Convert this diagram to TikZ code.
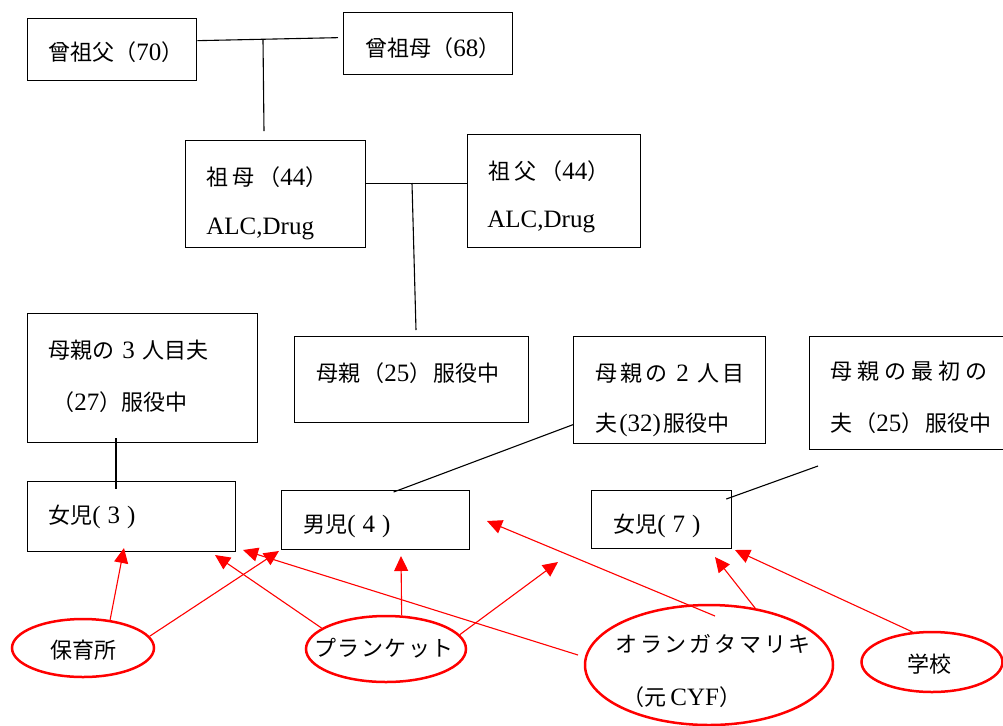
\documentclass[tikz,border=0pt]{standalone}
\usepackage{fontspec}
\setmainfont{Liberation Serif}
\newfontfamily\cjk[Scale=0.88]{Noto Sans CJK JP}
\usetikzlibrary{arrows.meta,shapes.geometric}
\newcommand\J[1]{{\cjk #1}}
\newcommand\gp[1]{\hspace{#1pt}}
\begin{document}
\begin{tikzpicture}[x=0.5pt,y=-0.5pt,
  font=\fontsize{12.5}{15}\selectfont,
  box/.style={draw, line width=0.65pt, inner sep=0pt, anchor=north west},
  txt/.style={anchor=west, inner sep=0pt},
  ctxt/.style={anchor=center, inner sep=0pt},
  oval/.style={draw=red, ellipse, line width=1.25pt, inner sep=0pt},
  link/.style={line width=0.55pt},
  rel/.style={draw=red, line width=0.55pt, -{Triangle[length=7.5pt,width=7pt,fill=red]}}]
\useasboundingbox (0,0) rectangle (1003,725);

% boxes
\node[box, minimum width=84.5pt, minimum height=31pt] (ggf) at (27,18) {};
\node[box, minimum width=84.5pt, minimum height=31pt] (ggm) at (343,12) {};
\node[box, minimum width=90pt, minimum height=53.5pt] (gm) at (185,140) {};
\node[box, minimum width=86.5pt, minimum height=56.5pt] (gf) at (467,134) {};
\node[box, minimum width=115pt, minimum height=64.5pt] (h3) at (27,313) {};
\node[box, minimum width=117pt, minimum height=43pt] (mo) at (294,336) {};
\node[box, minimum width=96pt, minimum height=53.5pt] (h2) at (573,336) {};
\node[box, minimum width=110pt, minimum height=56.5pt] (h1) at (809,336) {};
\node[box, minimum width=104pt, minimum height=35pt] (g3) at (27,481) {};
\node[box, minimum width=94pt, minimum height=29.5pt] (b4) at (281,490) {};
\node[box, minimum width=70pt, minimum height=29pt] (g7) at (591,490) {};

% box texts
\node[txt] (ggft) at (48,52) {\J{曾祖父（}70\J{）}};
\node[txt] (ggmt) at (365,48) {\J{曾祖母（}68\J{）}};
\node[txt] (gmt1) at (206,177) {\J{祖\gp{2}母\gp{2}（}44\J{）}};
\node[txt] (gmt2) at (206,229) {ALC,Drug};
\node[txt] (gft1) at (488,171) {\J{祖\gp{2}父\gp{2}（}44\J{）}};
\node[txt] (gft2) at (487,222) {ALC,Drug};
\node[txt] (h3t1) at (48,350) {\J{母親の}\gp{4}3\gp{4}\J{人目夫}};
\node[txt] (h3t2) at (52,402) {\J{（}27\J{）服役中}};
\node[txt] (mot) at (316,373) {\J{母親}\gp{1}\J{（}25\J{）}\gp{1}\J{服役中}};
\node[txt] (h2t1) at (595,373) {\J{母\gp{1.5}親\gp{1.5}の}\gp{4.5}2\gp{4.5}\J{人\gp{1.5}目}};
\node[txt] (h2t2) at (595,425) {\J{夫}\gp{1}(32)\gp{1}\J{服役中}};
\node[txt] (h1t1) at (830,371) {\J{母\gp{2.5}親\gp{2.5}の\gp{2.5}最\gp{2.5}初\gp{2.5}の}};
\node[txt] (h1t2) at (830,423) {\J{夫\gp{1}（}25\J{）\gp{1}服役中}};
\node[txt] (g3t) at (48,517) {\J{女児}(\gp{3.5}3\gp{3.5})};
\node[txt] (b4t) at (303,526) {\J{男児}(\gp{3.5}4\gp{3.5})};
\node[txt] (g7t) at (613,526) {\J{女児}(\gp{3.5}7\gp{3.5})};

% ovals
\node[oval, minimum width=71pt, minimum height=29pt] (hoiku) at (83,648) {};
\node[ctxt] (hoikut) at (83,650) {\J{保育所}};
\node[oval, minimum width=80pt, minimum height=33pt] (plunket) at (386,649) {};
\node[ctxt] (plunkett) at (384,648) {\J{プ\gp{0.8}ラ\gp{0.8}ン\gp{0.8}ケ\gp{0.8}ッ\gp{0.8}ト}};
\node[oval, minimum width=124pt, minimum height=60pt] (oranga) at (709,665) {};
\node[txt] (orangat1) at (615,644) {\J{オ\gp{1.4}ラ\gp{1.4}ン\gp{1.4}ガ\gp{1.4}タ\gp{1.4}マ\gp{1.4}リ\gp{1.4}キ}};
\node[txt] (orangat2) at (622,697) {\J{（元}\gp{2}CYF\J{）}};
\node[oval, minimum width=70.5pt, minimum height=30pt] (gakkou) at (932,662) {};
\node[ctxt] (gakkout) at (929,664) {\J{学校}};

% black family lines
\coordinate (m1) at (263,40);
\coordinate (m1b) at (264,131);
\coordinate (m2) at (412,183);
\coordinate (m2b) at (416,330);
\coordinate (c3a) at (116,438);
\coordinate (c3b) at (116,489);
\coordinate (c1a) at (818,466);
\draw[link] ([yshift=4.5pt]ggf.east) -- ([xshift=-2.5pt,yshift=3pt]ggm.west);
\draw[link] (m1) -- (m1b);
\draw[link] ([yshift=5.25pt]gm.east) -- ([yshift=3.75pt]gf.west);
\draw[link] (m2) -- (m2b);
\draw[link] (c3a) -- (c3b);
\draw[link] ([yshift=-17.25pt]h2.west) -- ([xshift=9pt,yshift=-1pt]b4.north);
\draw[link] (c1a) -- ([xshift=-3pt,yshift=-4.5pt]g7.north east);

% red arrows
\coordinate (t1) at (124,548);
\coordinate (t2) at (279,551);
\coordinate (t3) at (215,555);
\coordinate (t4) at (401,556);
\coordinate (t5) at (558,562);
\coordinate (t6) at (487,521);
\coordinate (t7) at (715,557);
\coordinate (t8) at (243,550);
\coordinate (t9) at (735,550);
\coordinate (s6) at (715,616);
\coordinate (s8) at (578,655);
\draw[rel] (hoiku.46) -- (t1);
\draw[rel] (hoiku.10) -- (t2);
\draw[rel] (plunket.162) -- (t3);
\draw[rel] (plunket.65) -- (t4);
\draw[rel] (plunket.11) -- (t5);
\draw[rel] (s6) -- (t6);
\draw[rel] (oranga.51) -- (t7);
\draw[rel] (s8) -- (t8);
\draw[rel] (gakkou.123) -- (t9);
\end{tikzpicture}
\end{document}
